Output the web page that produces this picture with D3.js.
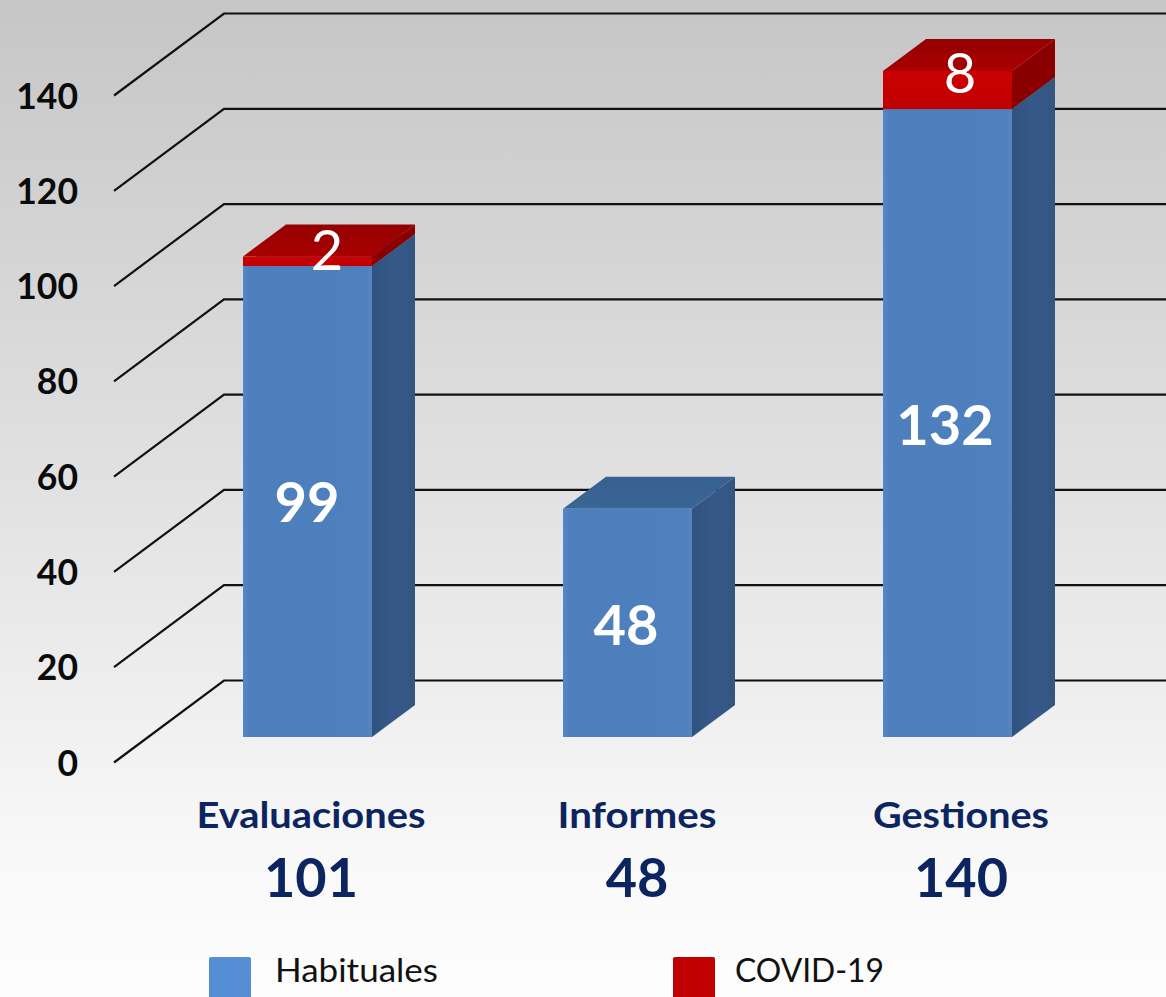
<!DOCTYPE html>
<html><head><meta charset="utf-8">
<script src="https://cdn.jsdelivr.net/npm/d3@7"></script>
<style>html,body{margin:0;padding:0;background:#fff;overflow:hidden}svg{display:block}text{font-family:Lato,"Open Sans",sans-serif}</style>
</head><body><div id="c"></div>
<script>
const categories = ["Evaluaciones","Informes","Gestiones"];
const habituales = [99,48,132];
const covid = [2,0,8];
const totals = [101,48,140];
const yTicks = [0,20,40,60,80,100,120,140];
const legendLabels = ["Habituales","COVID-19"];

const W=1166,H=997;
const svg=d3.select("#c").append("svg").attr("width",W).attr("height",H);
const defs=svg.append("defs");
function grad(id,stops,x2=0,y2=1){const g=defs.append("linearGradient").attr("id",id).attr("x1",0).attr("y1",0).attr("x2",x2).attr("y2",y2);
 stops.forEach(([o,c])=>g.append("stop").attr("offset",o).attr("stop-color",c));}
grad("bg",[[0,"#c6c6c6"],[0.5,"#e2e2e2"],[0.85,"#f8f8f8"],[1,"#fdfdfd"]]);
grad("front",[[0,"#5688c8"],[0.05,"#4d7fbd"],[0.95,"#4e80bd"],[1,"#5686c2"]],1,0);
grad("side",[[0,"#30527f"],[0.5,"#36598a"],[1,"#33567f"]],1,0);
grad("redFront",[[0,"#cc0000"],[1,"#bf0000"]]);
grad("redTop",[[0,"#950000"],[1,"#a80000"]]);
grad("blueTop",[[0,"#35608f"],[1,"#3a6595"]]);
svg.append("rect").attr("width",W).attr("height",H).attr("fill","url(#bg)");

const yFront=d3.scaleLinear().domain([0,140]).range([737,71]);
const yBack=d3.scaleLinear().domain([0,140]).range([680.5,13.5]);
const x=d3.scaleBand().domain(categories).range([243,1012]).paddingInner(191/320).paddingOuter(0);
const barDx=43,barDy=-32, wallX0=114, wallX1=224, wallDy=82;

const grid=svg.append("g").attr("fill","none").attr("stroke","#111").attr("stroke-width",2.2);
grid.selectAll("path").data(yTicks).join("path")
 .attr("d",t=>`M${wallX0},${yBack(t)+wallDy}L${wallX1},${yBack(t)}H${W}`);

svg.append("g").selectAll("text").data(yTicks).join("text")
 .attr("x",78).attr("y",t=>yBack(t)+wallDy).attr("dy",13).attr("text-anchor","end")
 .attr("font-size",35.5).attr("font-weight",700).attr("fill","#0b0b0b").text(t=>t);

function box(g,x0,w,yb,yt,frontFill,topFill,sideFill){
 g.append("path").attr("fill",sideFill).attr("d",`M${x0+w},${yb}L${x0+w+barDx},${yb+barDy}V${yt+barDy}L${x0+w},${yt}Z`);
 g.append("path").attr("fill",topFill).attr("d",`M${x0},${yt}L${x0+barDx},${yt+barDy}H${x0+w+barDx}L${x0+w},${yt}Z`);
 g.append("rect").attr("x",x0).attr("y",yt).attr("width",w).attr("height",yb-yt).attr("fill",frontFill);
}
const bars=svg.append("g");
categories.forEach((c,i)=>{
 const g=bars.append("g"),x0=x(c),w=x.bandwidth();
 box(g,x0,w,yFront(0),yFront(habituales[i]),"url(#front)","url(#blueTop)","url(#side)");
 if(covid[i]>0) box(g,x0,w,yFront(habituales[i]),yFront(habituales[i]+covid[i]),"url(#redFront)","url(#redTop)","#8a0000");
});

const habDx=[64,63,62], covDx=[84,0,77];
svg.append("g").selectAll("text").data(categories).join("text")
 .attr("x",(c,i)=>x(c)+habDx[i]).attr("y",(c,i)=>[522,645,445][i]).attr("text-anchor","middle")
 .attr("font-size",56).attr("font-weight",700).attr("fill","#fff").text((c,i)=>habituales[i]);
svg.append("g").selectAll("text").data(categories.filter((c,i)=>covid[i]>0)).join("text")
 .attr("x",c=>x(c)+covDx[categories.indexOf(c)]).attr("y",c=>[270,0,93][categories.indexOf(c)]).attr("text-anchor","middle")
 .attr("font-size",56).attr("font-weight",400).attr("fill","#fff").text(c=>covid[categories.indexOf(c)]);

const labelCx=[311,637,961], labelW=[229,159,176];
svg.append("g").selectAll("text").data(categories).join("text")
 .attr("x",(c,i)=>labelCx[i]).attr("y",828).attr("text-anchor","middle")
 .attr("textLength",(c,i)=>labelW[i]).attr("lengthAdjust","spacingAndGlyphs")
 .attr("font-size",37).attr("font-weight",700).attr("fill","#0c2560").text(c=>c);
svg.append("g").selectAll("text").data(totals).join("text")
 .attr("x",(c,i)=>labelCx[i]).attr("y",897).attr("text-anchor","middle")
 .attr("font-size",54).attr("font-weight",700).attr("fill","#0c2560").text(t=>t);

const legendX=[209,673], legendTextX=[275,735], legendTextW=[163,149], legendCol=["#558ed5","#c00000"];
const lg=svg.append("g").selectAll("g").data(legendLabels).join("g");
lg.append("rect").attr("x",(d,i)=>legendX[i]).attr("y",957).attr("width",42).attr("height",50).attr("rx",2).attr("fill",(d,i)=>legendCol[i]);
lg.append("text").attr("x",(d,i)=>legendTextX[i]).attr("y",982)
 .attr("textLength",(d,i)=>legendTextW[i]).attr("lengthAdjust","spacingAndGlyphs")
 .attr("font-size",33).attr("fill","#111").text(d=>d);
</script></body></html>
